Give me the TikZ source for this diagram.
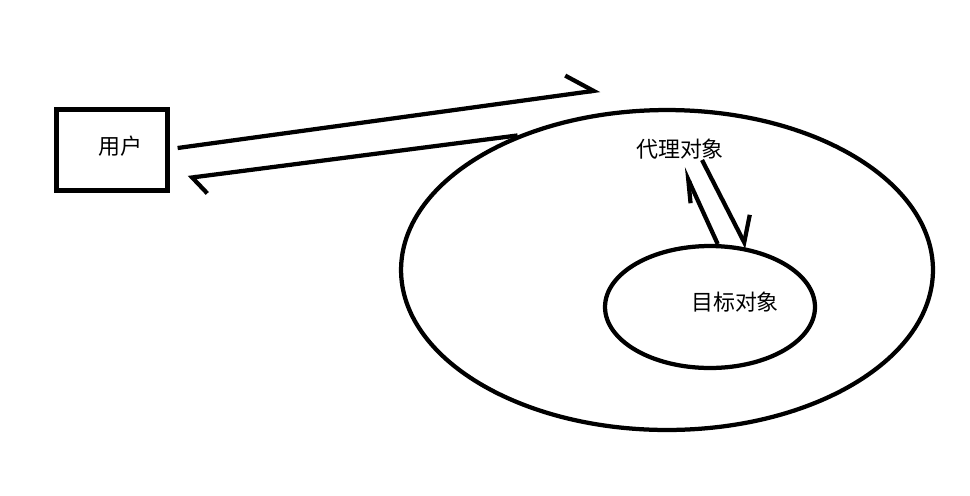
\documentclass[tikz,border=0pt]{standalone}
\usepackage{fontspec}
\newfontfamily\cjk{Noto Sans CJK SC}
\usetikzlibrary{arrows.meta,shapes.geometric}

\tikzset{
  box/.style={draw, rectangle, minimum width=2.22cm, minimum height=1.62cm, inner sep=0pt},
  oval/.style={draw, ellipse, inner sep=0pt},
  half/.style 2 args={-{Straight Barb[harpoon, length=#1, width=#2]}}
}

\begin{document}
\begin{tikzpicture}[x=0.02cm, y=-0.02cm, line width=0.085cm,
                    every node/.style={font=\cjk\fontsize{12.5}{15}\selectfont}]
                \useasboundingbox (0,0) rectangle (970,495);

                \node[box] (user) at (112,150) {};
                \node (usertext) at (120,146) {用户};
                \node[oval, minimum width=10.64cm, minimum height=6.4cm] (proxy) at (667,270) {};
                \node[oval, minimum width=4.2cm, minimum height=2.44cm] (target) at (710,307) {};
                \node (proxytext) at (680,149) {代理对象};
                \node (targettext) at (735,302) {目标对象};

                % free ends of the arrows
                \coordinate (out) at (600,90);
                \coordinate (back) at (188,178);
                \coordinate (up) at (683,168);
                \coordinate (down) at (702,160);

                \draw[half={0.52cm}{0.76cm}] ([shift={(8,-2)}]user.east) -- (out);
                \draw[half={0.26cm}{0.71cm}] (proxy.138) -- (back);

                \draw[half={0.45cm}{0.31cm}] (target.83) -- (up);
                \draw[half={0.44cm}{0.70cm}] (down) -- (target.58);
            \end{tikzpicture}
\end{document}
